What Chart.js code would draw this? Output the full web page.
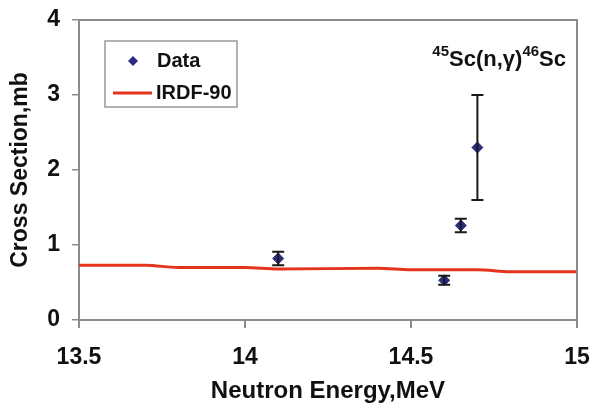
<!DOCTYPE html>
<html>
<head>
<meta charset="utf-8">
<script src="https://cdn.jsdelivr.net/npm/chart.js@4.4.0/dist/chart.umd.min.js"></script>
<style>
  html, body { margin: 0; padding: 0; background: #fff; }
  #wrap { width: 593px; height: 409px; }
</style>
</head>
<body>
<div id="wrap"><canvas id="chart" width="593" height="409"></canvas></div>
<script>
// measured points (with error bars)
const energies = [14.1, 14.6, 14.65, 14.7];
const crossSections = [0.82, 0.53, 1.26, 2.3];
const errors = [0.09, 0.06, 0.09, 0.7];

// IRDF-90 evaluation
const irdfEnergies = [13.5, 13.7, 13.8, 14.0, 14.1, 14.4, 14.5, 14.7, 14.8, 15.0];
const irdfValues = [0.73, 0.73, 0.70, 0.70, 0.68, 0.69, 0.67, 0.67, 0.645, 0.645];

const xTicks = [13.5, 14, 14.5, 15];
const yTicks = [0, 1, 2, 3, 4];

const FONT = '"Liberation Sans", Arial, sans-serif';
const AXIS_GRAY = '#8c8c8c';
const NAVY = '#2b2b80';
const RED = '#e5341d';

// error bars, frame, legend box and the reaction label
const extras = {
    id: 'extras',
    afterDatasetsDraw(chart) {
        const { ctx, chartArea: a, scales: { x, y } } = chart;
        ctx.save();
        // plot frame (top/right)
        ctx.strokeStyle = AXIS_GRAY;
        ctx.lineWidth = 2;
        ctx.beginPath();
        ctx.moveTo(a.left, a.top);
        ctx.lineTo(a.right, a.top);
        ctx.lineTo(a.right, a.bottom);
        ctx.stroke();

        // error bars
        ctx.strokeStyle = '#1a1a1a';
        ctx.lineWidth = 2;
        energies.forEach((e, i) => {
            const px = x.getPixelForValue(e);
            const top = y.getPixelForValue(crossSections[i] + errors[i]);
            const bot = y.getPixelForValue(crossSections[i] - errors[i]);
            ctx.beginPath();
            ctx.moveTo(px, top); ctx.lineTo(px, bot);
            ctx.moveTo(px - 6, top); ctx.lineTo(px + 6, top);
            ctx.moveTo(px - 6, bot); ctx.lineTo(px + 6, bot);
            ctx.stroke();
        });
        ctx.restore();
    },
    afterDraw(chart) {
        const { ctx } = chart;
        ctx.save();
        // legend
        ctx.fillStyle = '#fff';
        ctx.fillRect(105, 41, 132, 66);
        ctx.strokeStyle = '#999';
        ctx.lineWidth = 1.5;
        ctx.strokeRect(105, 41, 132, 66);
        ctx.fillStyle = NAVY;
        ctx.beginPath();
        ctx.moveTo(133, 56); ctx.lineTo(138, 61); ctx.lineTo(133, 66); ctx.lineTo(128, 61);
        ctx.closePath(); ctx.fill();
        ctx.strokeStyle = RED;
        ctx.lineWidth = 3;
        ctx.beginPath(); ctx.moveTo(113, 93); ctx.lineTo(152, 93); ctx.stroke();
        ctx.fillStyle = '#111';
        ctx.font = 'bold 20px ' + FONT;
        ctx.textBaseline = 'middle';
        ctx.fillText('Data', 157, 61);
        ctx.fillText('IRDF-90', 156, 93);

        // reaction label
        const parts = [['45', true], ['Sc(n,\u03b3)', false], ['46', true], ['Sc', false]];
        const sz = p => 'bold ' + (p[1] ? 15 : 22) + 'px ' + FONT;
        let w = 0;
        parts.forEach(p => { ctx.font = sz(p); w += ctx.measureText(p[0]).width; });
        let cx = 566 - w;
        ctx.textBaseline = 'alphabetic';
        parts.forEach(p => {
            ctx.font = sz(p);
            ctx.fillText(p[0], cx, p[1] ? 56 : 66);
            cx += ctx.measureText(p[0]).width;
        });
        ctx.restore();
    }
};

new Chart(document.getElementById('chart'), {
    type: 'scatter',
    data: {
        datasets: [{
            label: 'Data',
            data: energies.map((e, i) => ({ x: e, y: crossSections[i] })),
            pointStyle: 'rectRot',
            pointRadius: 5.5,
            backgroundColor: NAVY,
            borderColor: NAVY,
            order: 0
        }, {
            label: 'IRDF-90',
            type: 'line',
            data: irdfEnergies.map((e, i) => ({ x: e, y: irdfValues[i] })),
            borderColor: RED,
            borderWidth: 3,
            pointRadius: 0,
            cubicInterpolationMode: 'monotone',
            fill: false,
            order: 1
        }]
    },
    options: {
        responsive: false,
        animation: false,
        layout: { padding: { top: 20, right: 16, left: 0, bottom: 0 } },
        plugins: { legend: { display: false }, tooltip: { enabled: false } },
        scales: {
            x: {
                type: 'linear', min: 13.5, max: 15,
                afterBuildTicks: s => { s.ticks = xTicks.map(v => ({ value: v })); },
                afterFit: s => { s.height = 89; s.paddingLeft = 0; s.paddingRight = 0; },
                border: { color: AXIS_GRAY, width: 2 },
                grid: { drawOnChartArea: false, color: AXIS_GRAY, lineWidth: 2, tickLength: 8 },
                ticks: { color: '#111', padding: 16, maxRotation: 0,
                    callback: v => String(v),
                    font: { family: FONT, size: 23, weight: 'bold' } },
                title: { display: true, text: 'Neutron Energy,MeV', color: '#111', padding: { bottom: 3 },
                    font: { family: FONT, size: 24, weight: 'bold' } }
            },
            y: {
                type: 'linear', min: 0, max: 4,
                afterBuildTicks: s => { s.ticks = yTicks.map(v => ({ value: v })); },
                afterFit: s => { s.width = 79; s.paddingTop = 0; s.paddingBottom = 0; },
                border: { color: AXIS_GRAY, width: 2 },
                grid: { drawOnChartArea: false, color: AXIS_GRAY, lineWidth: 1.5, tickLength: 7 },
                ticks: { color: '#111', padding: 12, font: { family: FONT, size: 23, weight: 'bold' } },
                title: { display: true, text: 'Cross Section,mb', color: '#111', padding: { top: 7 },
                    font: { family: FONT, size: 23, weight: 'bold' } }
            }
        }
    },
    plugins: [extras]
});
</script>
</body>
</html>
